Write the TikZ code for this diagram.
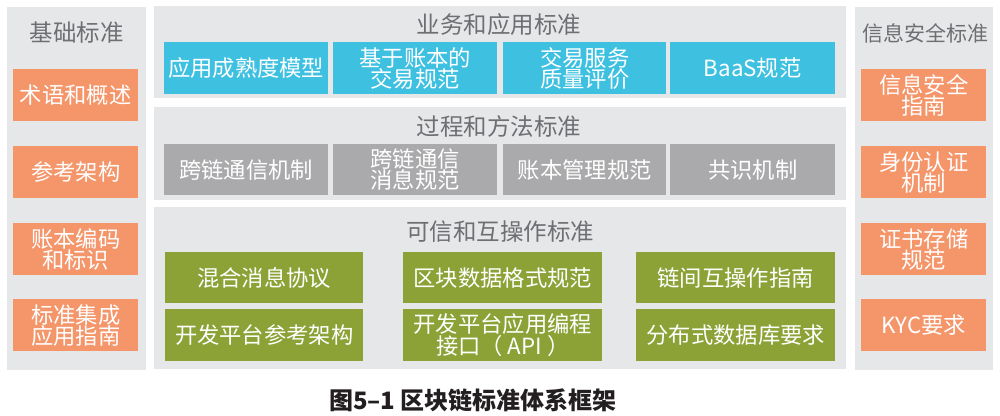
\documentclass[tikz,border=0pt]{standalone}
\usepackage{fontspec}
\setmainfont{Noto Sans CJK SC}
\definecolor{panelgray}{HTML}{E6E7E9}
\definecolor{orangebox}{HTML}{F4956A}
\definecolor{cyanbox}{HTML}{3EC0E1}
\definecolor{graybox}{HTML}{AAAAAC}
\definecolor{greenbox}{HTML}{8CA236}
\definecolor{titlegray}{HTML}{6E6F72}
\definecolor{captiontext}{HTML}{231F20}
\begin{document}
\begin{tikzpicture}[x=1pt,y=-1pt,
  panel/.style={fill=panelgray, draw=none, anchor=north west, inner sep=0pt},
  ptitle/.style={text=titlegray, font=\fontsize{23.5}{24}\selectfont, inner sep=0pt},
  boxbase/.style={draw=none, anchor=north west, inner sep=0pt, align=center, text=white,
    font=\fontsize{22.3}{21}\selectfont},
  obox/.style={boxbase, fill=orangebox, minimum width=125pt, minimum height=52pt},
  cbox/.style={boxbase, fill=cyanbox, minimum height=52pt},
  gbox/.style={boxbase, fill=graybox, minimum height=51pt},
  vbox/.style={boxbase, fill=greenbox, minimum width=199pt},
  caption/.style={text=captiontext, font=\fontsize{24}{26}\bfseries\selectfont, inner sep=0pt}
]
\useasboundingbox[fill=white] (0,0) rectangle (1000,415);

% left panel
\node[panel, minimum width=139pt, minimum height=363pt] (basepanel) at (7,7) {};
\node[ptitle] (basetitle) at (76.5,33) {基础标准};
\node[obox] (b1) at (13,69) {术语和概述};
\node[obox] (b2) at (13,146) {参考架构};
\node[obox] (b3) at (13,223) {账本编码\\和标识};
\node[obox] (b4) at (13,299) {标准集成\\应用指南};

% right panel
\node[panel, minimum width=138pt, minimum height=363pt] (secpanel) at (855,7) {};
\node[ptitle, font=\fontsize{21}{22}\selectfont] (sectitle) at (925,33) {信息安全标准};
\node[obox] (s1) at (861,69) {信息安全\\指南};
\node[obox] (s2) at (861,146) {身份认证\\机制};
\node[obox] (s3) at (861,223) {证书存储\\规范};
\node[obox] (s4) at (861,299) {KYC要求};

% business panel
\node[panel, minimum width=692pt, minimum height=92pt] (bizpanel) at (154,6) {};
\node[ptitle] (biztitle) at (499,25) {业务和应用标准};
\node[cbox, minimum width=164pt] (c1) at (164,42) {应用成熟度模型};
\node[cbox, minimum width=164pt] (c2) at (333,42) {基于账本的\\交易规范};
\node[cbox, minimum width=163pt] (c3) at (503,42) {交易服务\\质量评价};
\node[cbox, minimum width=165pt] (c4) at (670,42) {BaaS规范};

% process panel
\node[panel, minimum width=692pt, minimum height=93pt] (procpanel) at (154,107) {};
\node[ptitle] (proctitle) at (499,127) {过程和方法标准};
\node[gbox, minimum width=164pt] (g1) at (164,144) {跨链通信机制};
\node[gbox, minimum width=164pt] (g2) at (333,144) {跨链通信\\消息规范};
\node[gbox, minimum width=163pt] (g3) at (503,144) {账本管理规范};
\node[gbox, minimum width=165pt] (g4) at (670,144) {共识机制};

% trust panel
\node[panel, minimum width=692pt, minimum height=162pt] (trustpanel) at (154,207) {};
\node[ptitle] (trusttitle) at (500,232) {可信和互操作标准};
\node[vbox, minimum height=51pt, minimum width=198pt] (v1) at (165,252) {混合消息协议};
\node[vbox, minimum height=51pt] (v2) at (403,252) {区块数据格式规范};
\node[vbox, minimum height=51pt] (v3) at (636,252) {链间互操作指南};
\node[vbox, minimum height=52pt, minimum width=198pt] (v4) at (165,309) {开发平台参考架构};
\node[vbox, minimum height=52pt] (v5) at (403,309) {开发平台应用编程\\接口（ API ）};
\node[vbox, minimum height=52pt] (v6) at (636,309) {分布式数据库要求};

% caption
\node[caption] (cap) at (473,400) {图5–1 区块链标准体系框架};
\end{tikzpicture}
\end{document}
